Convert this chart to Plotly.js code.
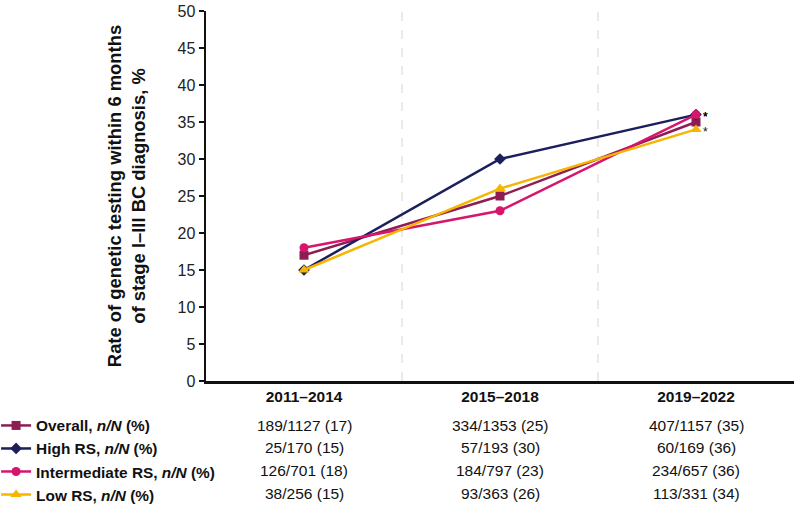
<!DOCTYPE html>
<html>
<head>
<meta charset="utf-8">
<script src="https://cdn.plot.ly/plotly-3.0.1.min.js"></script>
<style>html,body{margin:0;padding:0;background:#fff;}#chart{width:797px;height:509px;}</style>
</head>
<body>
<div id="chart"></div>
<script>
const periods = ["2011–2014", "2015–2018", "2019–2022"];
const seriesNames = ["Overall", "High RS", "Intermediate RS", "Low RS"];
const overall = [17, 25, 35];
const highRS = [15, 30, 36];
const intermediateRS = [18, 23, 36];
const lowRS = [15, 26, 34];
const overallNN = ["189/1127 (17)", "334/1353 (25)", "407/1157 (35)"];
const highNN = ["25/170 (15)", "57/193 (30)", "60/169 (36)"];
const intermediateNN = ["126/701 (18)", "184/797 (23)", "234/657 (36)"];
const lowNN = ["38/256 (15)", "93/363 (26)", "113/331 (34)"];
const yTicks = [0, 5, 10, 15, 20, 25, 30, 35, 40, 45, 50];

const colors = ["#8e1d53", "#1b1f5c", "#d7156d", "#f7b500"];
const symbols = ["square", "diamond", "circle", "triangle-up"];
const values = [overall, highRS, intermediateRS, lowRS];
const tableRows = [overallNN, highNN, intermediateNN, lowNN];
const FONT = "Liberation Sans, Arial, sans-serif";

const xIdx = periods.map((p, i) => i);
const traces = values.map((v, k) => ({
  x: xIdx, y: v, type: "scatter", mode: "lines+markers",
  name: "<b>" + seriesNames[k] + ", <i>n/N</i> (%)</b>",
  line: {color: colors[k], width: 2.5},
  marker: {color: colors[k], symbol: symbols[k], size: k === 3 ? 10 : 9},
  hoverinfo: "skip"
}));

const annotations = [];
// table rows
const rowY = [-0.119, -0.181, -0.243, -0.305];
tableRows.forEach((row, r) => {
  row.forEach((t, c) => {
    annotations.push({x: c, y: rowY[r], xref: "x", yref: "paper", text: t, showarrow: false,
      xanchor: "center", yanchor: "middle", font: {family: FONT, size: 15.5, color: "#111"}});
  });
});
// asterisks, one per series, stacked beside the last points
const astShift = [4.6, -2.4, -2, -2.6];
values.forEach((v, k) => {
  annotations.push({x: 2, y: v[2], xref: "x", yref: "y", text: "*", showarrow: false,
    xanchor: "left", yanchor: "middle", xshift: 5, yshift: astShift[k],
    font: {family: FONT, size: 12, color: "#111"}});
});

const layout = {
  width: 797, height: 509,
  margin: {l: 206, r: 3, t: 11, b: 128, autoexpand: false},
  paper_bgcolor: "#fff", plot_bgcolor: "#fff",
  font: {family: FONT, color: "#111"},
  showlegend: true,
  legend: {x: -0.357, y: -0.0755, xanchor: "left", yanchor: "top", orientation: "v",
    font: {family: FONT, size: 15.4, color: "#111"}, tracegroupgap: 0, itemwidth: 30,
    bgcolor: "rgba(0,0,0,0)"},
  xaxis: {range: [-0.5, 2.5], tickvals: xIdx, ticktext: periods.map(p => "<b>" + p + "</b>"),
    showgrid: false, zeroline: false, showline: true, linecolor: "#111", linewidth: 2.5,
    ticks: "", tickfont: {family: FONT, size: 15.5, color: "#111"}, fixedrange: true},
  yaxis: {range: [0, 50], tickvals: yTicks, showgrid: false, zeroline: false, showline: true,
    linecolor: "#111", linewidth: 2.5, ticks: "outside", ticklen: 5, tickwidth: 1.5, tickcolor: "#111",
    tickfont: {family: FONT, size: 16, color: "#222"},
    title: {text: "<b>Rate of genetic testing within 6 months<br>of stage I–III BC diagnosis, %</b>",
      font: {family: FONT, size: 18.4, color: "#111"}, standoff: 27}, fixedrange: true},
  shapes: [0.5, 1.5].map(xv => ({type: "line", xref: "x", yref: "paper", x0: xv, x1: xv, y0: 0, y1: 1,
    line: {color: "#dcdcdc", width: 1.2, dash: "dash"}, layer: "below"})),
  annotations: annotations
};

Plotly.newPlot("chart", traces, layout, {staticPlot: true, displayModeBar: false});
</script>
</body>
</html>
